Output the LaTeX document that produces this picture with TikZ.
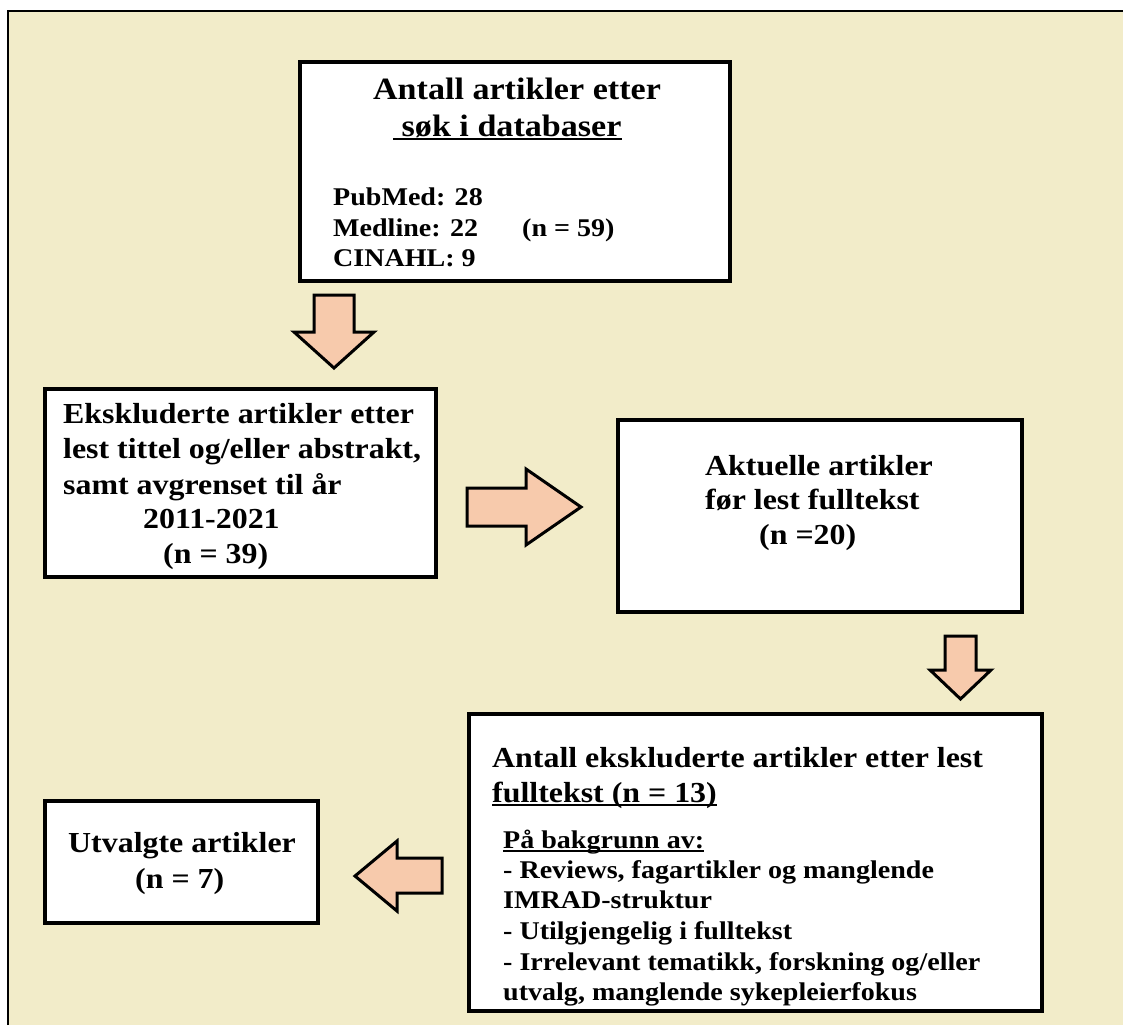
\documentclass[tikz,border=0pt]{standalone}
\usepackage{fontspec}
\setmainfont{Liberation Serif}[FakeStretch=1.1]
\definecolor{bg}{HTML}{F2ECC9}
\definecolor{peach}{HTML}{F7CAAC}
\newcommand{\szmain}{\fontsize{29}{35}\selectfont\bfseries}
\newcommand{\sztitle}{\fontsize{31}{38}\selectfont\bfseries}
\newcommand{\szsmall}{\fontsize{25.5}{30}\selectfont\bfseries}
\newcommand{\ulx}[1]{\setbox0=\hbox{#1}\rlap{\rule[-4pt]{\wd0}{1.8pt}}\box0}
\begin{document}
\begin{tikzpicture}[x=1pt,y=-1pt,
  box/.style={draw=black, line width=3.5pt, fill=white, inner sep=0pt, rectangle},
  blk/.style={draw=black, line width=3pt, fill=peach, line join=miter},
  txt/.style={anchor=base west, inner sep=0pt, font=\szmain},
  ttl/.style={anchor=base, inner sep=0pt, font=\sztitle},
  sml/.style={anchor=base west, inner sep=0pt, font=\szsmall}]
\useasboundingbox (0,0) rectangle (1123,1025);
\fill[white] (0,0) rectangle (1123,1025);
\fill[bg] (8,11) rectangle (1123,1025);
\draw[line width=2pt] (8,1025) -- (8,11) -- (1123,11);

% boxes
\node[box, minimum width=430pt, minimum height=219pt] (b1) at (515,171.5) {};
\node[box, minimum width=391pt, minimum height=188pt] (b2) at (240.5,483) {};
\node[box, minimum width=404pt, minimum height=192pt] (b3) at (820,516) {};
\node[box, minimum width=573pt, minimum height=297pt] (b4) at (755.5,862.5) {};
\node[box, minimum width=273pt, minimum height=122pt] (b5) at (181.5,862) {};

% block arrows
\draw[blk] (314,295) -- (354,295) -- (354,332) -- (374,332) -- (334,368) -- (294,332) -- (314,332) -- cycle;
\draw[blk] (467,488) -- (526,488) -- (526,469) -- (581,507) -- (526,545) -- (526,526) -- (467,526) -- cycle;
\draw[blk] (945,636) -- (976,636) -- (976,670) -- (991,670) -- (960.5,699) -- (930,670) -- (945,670) -- cycle;
\draw[blk] (442,858) -- (397,858) -- (397,841) -- (355,876) -- (397,911) -- (397,893) -- (442,893) -- cycle;

% box 1
\node[ttl] (t11) at (517,99) {Antall artikler etter};
\node[ttl, anchor=base west] (t12) at (393,136) {\ulx{\ søk i databaser}};
\node[sml] (t13) at (333,205) {PubMed: 28};
\node[sml] (t14) at (333,236) {Medline: 22};
\node[sml] (t15) at (333,266) {CINAHL: 9};
\node[sml] (t16) at (522,236) {(n = 59)};

% box 2
\node[txt] (t21) at (63,423) {Ekskluderte artikler etter};
\node[txt] (t22) at (63,458) {lest tittel og/eller abstrakt,};
\node[txt] (t23) at (63,494) {samt avgrenset til år};
\node[txt] (t24) at (143,528) {2011-2021};
\node[txt] (t25) at (163,563) {(n = 39)};

% box 3
\node[txt] (t31) at (705,475) {Aktuelle artikler};
\node[txt] (t32) at (705,509) {før lest fulltekst};
\node[txt] (t33) at (759,544) {(n =20)};

% box 4
\node[txt] (t41) at (492,767) {Antall ekskluderte artikler etter lest};
\node[txt] (t42) at (492,802) {\ulx{fulltekst (n = 13)}};
\node[sml] (t43) at (503,848) {\ulx{På bakgrunn av:}};
\node[sml] (t44) at (503,878) {- Reviews, fagartikler og manglende};
\node[sml] (t45) at (503,908) {IMRAD-struktur};
\node[sml] (t46) at (503,939) {- Utilgjengelig i fulltekst};
\node[sml] (t47) at (503,970) {- Irrelevant tematikk, forskning og/eller};
\node[sml] (t48) at (503,1000) {utvalg, manglende sykepleierfokus};

% box 5
\node[txt] (t51) at (68,852) {Utvalgte artikler};
\node[txt] (t52) at (135,888) {(n = 7)};
\end{tikzpicture}
\end{document}
